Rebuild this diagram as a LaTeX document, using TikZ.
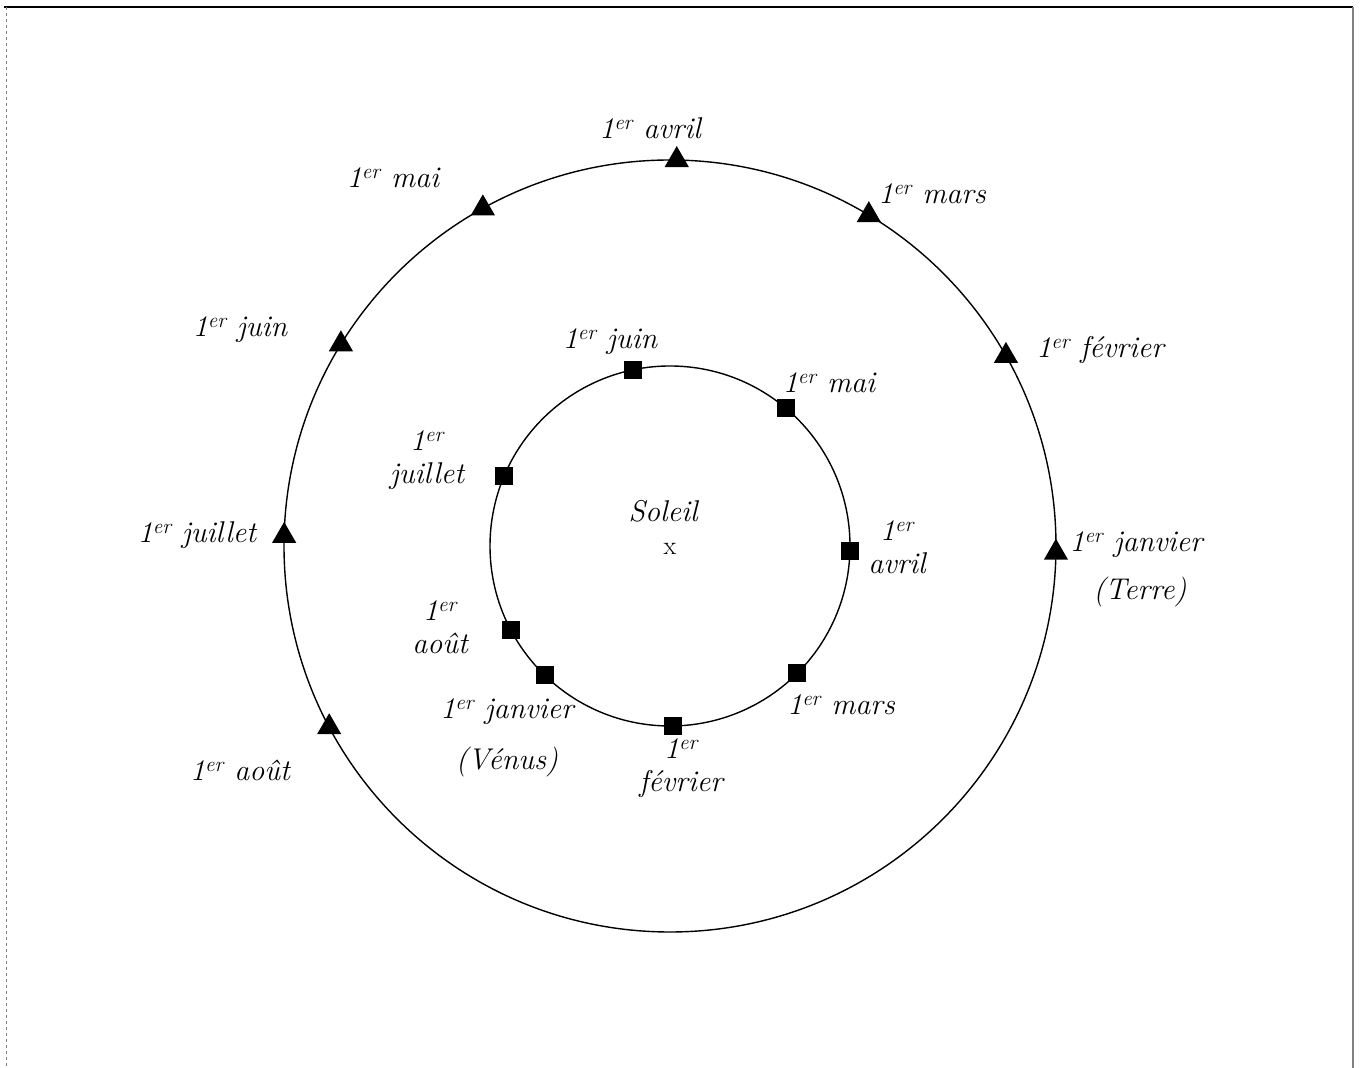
\documentclass[tikz,border=0pt]{standalone}
\usetikzlibrary{shapes.geometric}
\begin{document}
\begin{tikzpicture}[x=1pt,y=1pt,
  tri/.style={regular polygon,regular polygon sides=3,fill=black,draw=none,minimum size=28pt,inner sep=0pt},
  sq/.style={rectangle,fill=black,draw=none,minimum size=18pt,inner sep=0pt},
  lab/.style={font=\fontsize{30}{33}\selectfont\itshape,inner sep=0pt,align=center},
  orbit/.style={draw=black,line width=1.4pt},
  framel/.style={line width=1.5pt}]
\useasboundingbox (0,0) rectangle (1360,1068);
% frame
\coordinate (fTL) at (4,1061);
\coordinate (fTR) at (1353,1061);
\coordinate (fBR) at (1353,0);
\coordinate (fLT) at (6,1061);
\coordinate (fLB) at (6,0);
\draw[framel,black] (fTL) -- (fTR);
\draw[framel,gray] (fTR) -- (fBR);
\draw[line width=1pt,gray,dashed] (fLT) -- (fLB);
% orbits
\begin{scope}[shift={(670,522)}]
  \coordinate (sunc) at (0,0);
  \draw[orbit] (sunc) circle[radius=386];
  \draw[orbit] (sunc) circle[radius=180];
  % Earth positions
  \node[tri] (tjan) at (-1:386) {};
  \node[tri] (tfev) at (29.5:386) {};
  \node[tri] (tmar) at (59:386) {};
  \node[tri] (tavr) at (89:386) {};
  \node[tri] (tmai) at (119:386) {};
  \node[tri] (tjun) at (148.5:386) {};
  \node[tri] (tjul) at (178.5:386) {};
  \node[tri] (taou) at (208:386) {};
  % Venus positions
  \node[sq] (vjan) at (226:180) {};
  \node[sq] (vfev) at (271:180) {};
  \node[sq] (vmar) at (315:180) {};
  \node[sq] (vavr) at (358.5:180) {};
  \node[sq] (vmai) at (50:180) {};
  \node[sq] (vjun) at (102:180) {};
  \node[sq] (vjul) at (157:180) {};
  \node[sq] (vaou) at (208:180) {};
\end{scope}
% Sun
\node[lab] (soleil) at (663,557) {Soleil};
\node[font=\fontsize{26}{28}\selectfont,inner sep=0pt] (sun) at (670,519) {x};
% Earth labels
\node[lab] (ljan) at (1136,523) {1\textsuperscript{er} janvier};
\node[lab] (lterre) at (1140,476) {(Terre)};
\node[lab] (lfev) at (1100,718) {1\textsuperscript{er} février};
\node[lab] (lmar) at (932,874) {1\textsuperscript{er} mars};
\node[lab] (lavr) at (650,940) {1\textsuperscript{er} avril};
\node[lab] (lmai) at (393,890) {1\textsuperscript{er} mai};
\node[lab] (ljun) at (240,738) {1\textsuperscript{er} juin};
\node[lab] (ljul) at (197,533) {1\textsuperscript{er} juillet};
\node[lab] (laou) at (240,298) {1\textsuperscript{er} août};
% Venus labels
\node[lab] (ivjun) at (610,726) {1\textsuperscript{er} juin};
\node[lab] (ivmai) at (829,685) {1\textsuperscript{er} mai};
\node[lab] (ivjul) at (427,608) {1\textsuperscript{er}\\juillet};
\node[lab] (ivavr) at (897,521) {1\textsuperscript{er}\\avril};
\node[lab] (ivaou) at (440,441) {1\textsuperscript{er}\\août};
\node[lab] (ivjan) at (507,356) {1\textsuperscript{er} janvier};
\node[lab] (ivenus) at (507,306) {(Vénus)};
\node[lab] (ivfev) at (681,300) {1\textsuperscript{er}\\février};
\node[lab] (ivmar) at (841,363) {1\textsuperscript{er} mars};
\end{tikzpicture}
\end{document}
